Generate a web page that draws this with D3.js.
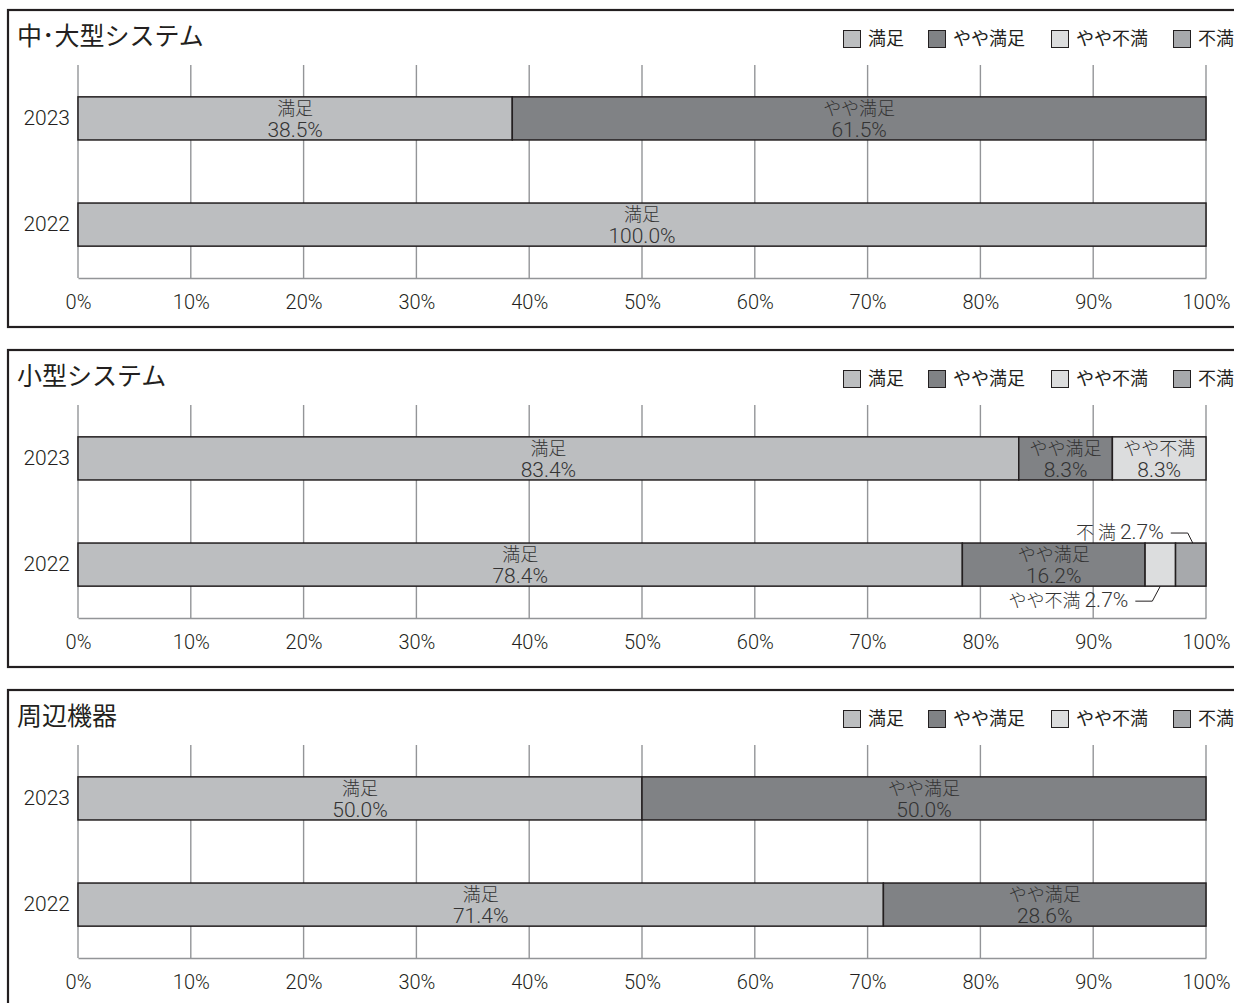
<!DOCTYPE html>
<html>
<head>
<meta charset="utf-8">
<script src="https://cdn.jsdelivr.net/npm/d3@7"></script>
<style>
    body { margin: 0; background: #fff; }
    svg { display: block; font-family: "Noto Sans CJK JP", "Noto Sans", sans-serif; }
    .num { font-family: Roboto, "Noto Sans CJK JP", sans-serif; font-weight: 300; }
</style>
</head>
<body>
<div id="container"></div>
<script>
// data
const categories = ["満足", "やや満足", "やや不満", "不満"];
const years = ["2023", "2022"];
const panelTitles = ["中･大型システム", "小型システム", "周辺機器"];
const largeSystem2023 = [38.5, 61.5, 0, 0];
const largeSystem2022 = [100.0, 0, 0, 0];
const smallSystem2023 = [83.4, 8.3, 8.3, 0];
const smallSystem2022 = [78.4, 16.2, 2.7, 2.7];
const peripherals2023 = [50.0, 50.0, 0, 0];
const peripherals2022 = [71.4, 28.6, 0, 0];
const tickValues = [0, 10, 20, 30, 40, 50, 60, 70, 80, 90, 100];

const panels = [
    { title: panelTitles[0], rows: { "2023": largeSystem2023, "2022": largeSystem2022 } },
    { title: panelTitles[1], rows: { "2023": smallSystem2023, "2022": smallSystem2022 } },
    { title: panelTitles[2], rows: { "2023": peripherals2023, "2022": peripherals2022 } }
];

const colors = ["#bcbec0", "#808285", "#dcddde", "#a7a9ac"];
const legendX = [843, 928, 1051, 1173];
const ink = "#231f20";

function main() {
    const width = 1234, height = 1003;
    const svg = d3.select("#container")
        .append("svg")
        .attr("width", width)
        .attr("height", height);

    const x = d3.scaleLinear()
        .domain([0, 100])
        .range([78, 1206]);

    panels.forEach((p, i) => drawPanel(svg, p, 10 + i * 340, x));
}

function drawPanel(svg, panel, oy, x) {
    const g = svg.append("g");

    // frame
    g.append("rect")
        .attr("x", 8)
        .attr("y", oy)
        .attr("width", 1240)
        .attr("height", 317)
        .attr("fill", "none")
        .attr("stroke", ink)
        .attr("stroke-width", 2.2);

    g.append("text")
        .attr("x", 17)
        .attr("y", oy + 26)
        .attr("dy", "0.35em")
        .attr("font-size", 25)
        .attr("fill", ink)
        .text(panel.title);

    // legend
    const leg = g.append("g")
        .selectAll("g")
        .data(categories)
        .join("g")
        .attr("transform", (d, i) => `translate(${legendX[i]},${oy + 20})`);
    leg.append("rect")
        .attr("x", 0.5)
        .attr("y", 0.5)
        .attr("width", 17)
        .attr("height", 17)
        .attr("fill", (d, i) => colors[i])
        .attr("stroke", ink)
        .attr("stroke-width", 1);
    leg.append("text")
        .attr("x", 25)
        .attr("y", 9)
        .attr("dy", "0.35em")
        .attr("font-size", 18)
        .attr("fill", ink)
        .text(d => d);

    const top = oy + 55, bottom = oy + 268;
    const y = d3.scaleBand()
        .domain(years)
        .range([top, bottom])
        .paddingInner(0.594)
        .paddingOuter(0.3);

    // grid
    g.append("g")
        .selectAll("line")
        .data(tickValues)
        .join("line")
        .attr("x1", d => x(d))
        .attr("x2", d => x(d))
        .attr("y1", top)
        .attr("y2", bottom)
        .attr("stroke", "#939598")
        .attr("stroke-width", 1.4);

    const axis = g.append("g")
        .attr("transform", `translate(0,${bottom})`)
        .call(d3.axisBottom(x).tickValues(tickValues).tickSize(0).tickPadding(17).tickFormat(d => d + "%"));
    axis.select(".domain").attr("stroke", "#939598").attr("stroke-width", 1.4);
    axis.selectAll("text")
        .attr("class", "num")
        .attr("font-size", 20)
        .attr("fill", ink);

    const yAxis = g.append("g")
        .attr("transform", `translate(70,0)`)
        .call(d3.axisLeft(y).tickSize(0).tickPadding(0));
    yAxis.select(".domain").remove();
    yAxis.selectAll("text")
        .attr("class", "num")
        .attr("font-size", 21)
        .attr("fill", ink);

    // bars
    years.forEach(year => {
        const vals = panel.rows[year];
        let acc = 0;
        const segs = vals.map((v, i) => {
            const s = { cat: categories[i], i: i, x0: acc, x1: acc + v, v: v };
            acc += v;
            return s;
        }).filter(s => s.v > 0);

        const by = y(year), bh = y.bandwidth(), cy = by + bh / 2;
        const row = g.append("g");
        row.selectAll("rect")
            .data(segs)
            .join("rect")
            .attr("x", d => x(d.x0))
            .attr("y", by)
            .attr("width", d => x(d.x1) - x(d.x0))
            .attr("height", bh)
            .attr("fill", d => colors[d.i])
            .attr("stroke", ink)
            .attr("stroke-width", 1.5);

        const inside = segs.filter(d => d.v >= 5);
        const lab = row.selectAll("g.lab")
            .data(inside)
            .join("g")
            .attr("class", "lab")
            .attr("fill", "#333")
            .attr("text-anchor", "middle");
        lab.append("text")
            .attr("x", d => (x(d.x0) + x(d.x1)) / 2)
            .attr("y", cy - 10)
            .attr("dy", "0.35em")
            .attr("font-size", 18)
            .attr("font-weight", 300)
            .text(d => d.cat);
        lab.append("text")
            .attr("class", "num")
            .attr("x", d => (x(d.x0) + x(d.x1)) / 2)
            .attr("y", cy + 11)
            .attr("dy", "0.35em")
            .attr("font-size", 21)
            .text(d => d.v.toFixed(1) + "%");

        // small segments get callouts
        segs.filter(d => d.v < 5).forEach(d => {
            const sx = (x(d.x0) + x(d.x1)) / 2;
            const above = d.cat === "不満";
            const ly = above ? by - 10 : by + bh + 15;
            const t = row.append("text")
                .attr("x", above ? sx - 27 : sx - 32)
                .attr("y", ly)
                .attr("dy", "0.35em")
                .attr("text-anchor", "end")
                .attr("fill", "#333");
            t.append("tspan")
                .attr("font-size", 18)
                .attr("font-weight", 300)
                .text(above ? "不 満 " : d.cat + " ");
            t.append("tspan")
                .attr("class", "num")
                .attr("font-size", 21)
                .text(d.v.toFixed(1) + "%");
            row.append("path")
                .attr("d", above
                    ? `M${sx - 20},${ly} H${sx - 3} L${sx + 2},${by}`
                    : `M${sx - 25},${ly} H${sx - 8} L${sx},${by + bh}`)
                .attr("fill", "none")
                .attr("stroke", ink)
                .attr("stroke-width", 1);
        });
    });
}

main();
</script>
</body>
</html>
